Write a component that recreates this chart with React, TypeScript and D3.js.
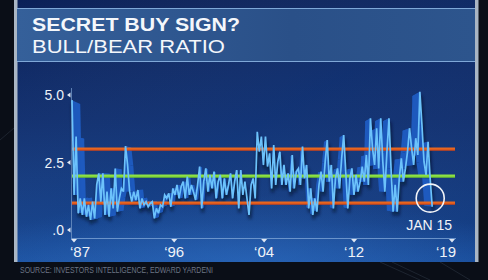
import React from 'react';
import * as d3 from 'd3';

// Bull/Bear ratio, evenly spaced from 1987 to Jan 15 2019
const bullBearRatio = [
  4.81, 1.3, 3.46, 0.62, 1.17, 0.56, 1.17, 0.49, 0.93, 0.37,
  1.05, 0.43, 1.67, 2.1, 1.05, 2.1, 0.56, 1.42, 0.49, 1.54,
  0.8, 2.28, 0.68, 1.17, 1.54, 1.42, 3.11, 2.41, 1.42, 1.05,
  1.42, 1.11, 1.48, 0.8, 1.17, 0.93, 1.05, 0.86, 0.99, 1.05,
  0.43, 0.8, 0.62, 0.93, 0.86, 1.3, 1.17, 1.36, 0.86, 1.54,
  1.3, 1.67, 1.17, 1.6, 1.79, 1.17, 1.98, 1.3, 1.67, 1.42,
  1.11, 1.67, 2.35, 0.8, 1.79, 2.28, 1.42, 2.04, 1.54, 2.16,
  1.17, 1.79, 2.04, 1.17, 1.91, 1.3, 1.67, 2.1, 1.17, 1.79,
  2.22, 0.8, 2.22, 1.3, 1.79, 1.17, 0.56, 1.67, 1.91, 1.17,
  3.64, 2.9, 3.46, 2.41,
  3.46, 2.35, 2.84, 1.54, 3.15, 1.67, 2.53, 2.9, 1.67, 2.41,
  1.67, 2.1, 1.42, 2.78, 1.54, 2.16, 2.28, 1.67, 3.09, 1.91,
  2.41, 0.8, 1.54, 0.56, 1.17, 0.68, 1.67, 2.16, 1.42, 2.53,
  3.33, 1.79, 2.41, 0.8, 1.91, 2.28, 1.54, 2.65, 3.52, 2.16,
  0.8, 1.91, 2.28, 1.3, 2.04, 1.42, 1.79, 2.35, 1.79, 2.78,
  1.67, 4.14, 3.02, 2.41, 3.77, 2.28, 4.14, 2.53, 1.42, 2.9,
  4.14, 2.28, 0.68, 1.67, 0.68, 1.91, 2.65, 1.79, 2.28, 2.9,
  3.77, 3.02, 2.41, 3.4, 2.78, 5.12, 3.91, 2.53, 2.04, 3.27,
  1.91, 0.86,
];
const startYear = 1987;
const endYear = 2019.04;

const levelValues = [3.0, 2.0, 1.0];
const levelColors = ['#e8661f', '#8ee243', '#e8661f'];

const yTickValues = [0, 2.5, 5];
const yTickLabels = ['.0', '2.5', '5.0'];

const xTickYears = [1987, 1996, 2004, 2012, 2020.8];
const xTickLabels = ['\u201887', '\u201896', '\u201804', '\u201812', '\u201819'];

const titleLine1 = 'SECRET BUY SIGN?';
const titleLine2 = 'BULL/BEAR RATIO';
const annotationLabel = 'JAN 15';
const sourceText = 'SOURCE: INVESTORS INTELLIGENCE, EDWARD YARDENI';

export default function App() {
  const W = 488;
  const H = 280;
  const x = d3.scaleLinear().domain([1987, 2020.8]).range([72, 452]);
  const y = d3.scaleLinear().domain([0, 5]).range([230, 95]);
  const n = bullBearRatio.length;
  const pts: [number, number][] = bullBearRatio.map((v, i) => [
    x(startYear + (i * (endYear - startYear)) / (n - 1)),
    y(v),
  ]);
  const line = d3.line()(pts) || '';
  // perspective extrusion toward a vanishing point
  const V = [255, 185];
  const k = 0.045;
  const back = (p: [number, number]) => [p[0] + k * (V[0] - p[0]), p[1] + k * (V[1] - p[1])];
  const faces = pts.slice(1).map((p2, i) => {
    const p1 = pts[i];
    const q1 = back(p1);
    const q2 = back(p2);
    return `M${p1[0]},${p1[1]}L${p2[0]},${p2[1]}L${q2[0]},${q2[1]}L${q1[0]},${q1[1]}Z`;
  });
  const last = pts[pts.length - 1];
  const fontSans = "'Liberation Sans', Arial, sans-serif";

  return (
    <svg width={W} height={H} style={{ position: 'absolute', left: 0, top: 0 }} xmlns="http://www.w3.org/2000/svg">
      <defs>
        <linearGradient id="panel" x1="0" y1="0" x2="0" y2="1">
          <stop offset="0" stopColor="#0a2058" />
          <stop offset="0.45" stopColor="#0c2a6a" />
          <stop offset="0.85" stopColor="#113b82" />
          <stop offset="1" stopColor="#1a4e9c" />
        </linearGradient>
        <linearGradient id="sheen" x1="0" y1="0" x2="1" y2="1">
          <stop offset="0" stopColor="#ffffff" stopOpacity="0" />
          <stop offset="0.5" stopColor="#3f7fd0" stopOpacity="0.12" />
          <stop offset="1" stopColor="#ffffff" stopOpacity="0" />
        </linearGradient>
        <linearGradient id="titleBox" x1="0" y1="0" x2="1" y2="0">
          <stop offset="0" stopColor="#35609a" />
          <stop offset="0.6" stopColor="#2a5088" />
          <stop offset="1" stopColor="#2d558d" />
        </linearGradient>
        <radialGradient id="floor" cx="0.5" cy="1" r="0.6">
          <stop offset="0" stopColor="#2a6cc4" stopOpacity="0.55" />
          <stop offset="1" stopColor="#2a6cc4" stopOpacity="0" />
        </radialGradient>
        <filter id="blur" x="-10%" y="-10%" width="120%" height="130%">
          <feGaussianBlur stdDeviation="1.6" />
        </filter>
        <clipPath id="panelClip">
          <rect x={17} y={0} width={458} height={262} />
        </clipPath>
      </defs>

      {/* outer background */}
      <rect x={0} y={0} width={W} height={H} fill="#0a0e17" />
      <g stroke="#2a3340" strokeWidth={1} opacity={0.6}>
        <line x1={380} y1={262} x2={420} y2={280} />
        <line x1={392} y1={262} x2={430} y2={280} />
        <line x1={440} y1={262} x2={470} y2={280} />
        <line x1={0} y1={140} x2={14} y2={128} />
      </g>

      {/* panel */}
      <rect x={17} y={0} width={458} height={262} fill="url(#panel)" />
      <g clipPath="url(#panelClip)">
        <rect x={17} y={0} width={458} height={262} fill="url(#sheen)" />
        <rect x={17} y={150} width={458} height={112} fill="url(#floor)" />
      </g>
      <rect x={14} y={0} width={3.5} height={262} fill="#aab6c4" />
      <rect x={475} y={0} width={3.5} height={262} fill="#aab6c4" />

      {/* title box */}
      <rect x={17} y={8} width={458} height={54} fill="url(#titleBox)" />
      <line x1={17} x2={475} y1={8.5} y2={8.5} stroke="#7fa8d8" strokeWidth={1} />
      <line x1={17} x2={475} y1={61.5} y2={61.5} stroke="#7fa8d8" strokeWidth={1} />
      <text x={32} y={31} fill="#f4f7fb" fontFamily={fontSans} fontWeight={700} fontSize={18.5}
        textLength={208} lengthAdjust="spacingAndGlyphs">{titleLine1}</text>
      <text x={32} y={53} fill="#f4f7fb" fontFamily={fontSans} fontWeight={400} fontSize={18.5}
        textLength={193} lengthAdjust="spacingAndGlyphs">{titleLine2}</text>

      {/* axes */}
      <line x1={71.5} x2={71.5} y1={88} y2={238} stroke="#6f93c4" strokeWidth={0.8} />
      <line x1={71} x2={456} y1={238.5} y2={238.5} stroke="#7da4d6" strokeWidth={0.8} />
      {yTickValues.map((v, i) => (
        <g key={'y' + i}>
          <path d={`M${67},${y(v)}L${70.5},${y(v) - 2.5}L${70.5},${y(v) + 2.5}Z`} fill="#dfe7f3" />
          <text x={64} y={y(v)} dy="0.36em" textAnchor="end" fill="#eef2f8" fontFamily={fontSans} fontSize={14}>
            {yTickLabels[i]}
          </text>
        </g>
      ))}
      {xTickYears.map((t, i) => {
        const tx = i === xTickYears.length - 1 ? x(t) : i === 0 ? x(t) + 2 : x(t) + 1;
        const anchor = i === 0 ? 'start' : i === xTickYears.length - 1 ? 'end' : 'middle';
        const lx = i === 0 ? tx - 4 : i === xTickYears.length - 1 ? tx + 4 : tx;
        return (
          <g key={'x' + i}>
            <path d={`M${tx - 3},${239}L${tx + 3},${239}L${tx},${242.5}Z`} fill="#dfe7f3" />
            <text x={lx} y={257} textAnchor={anchor} fill="#eef2f8" fontFamily={fontSans} fontSize={15}>
              {xTickLabels[i]}
            </text>
          </g>
        );
      })}

      {/* series shadow */}
      <path d={line} transform="translate(1,4)" fill="none" stroke="#02081a" strokeWidth={3} opacity={0.55} filter="url(#blur)" />
      {/* extrusion */}
      <g fill="#1f5ec6" opacity={0.9}>
        {faces.map((d, i) => (
          <path key={i} d={d} />
        ))}
      </g>

      {/* reference levels */}
      {levelValues.map((v, i) => (
        <g key={'l' + i}>
          <line x1={72} x2={455} y1={y(v)} y2={y(v)} stroke={levelColors[i]} strokeWidth={3} />
          <line x1={72} x2={455} y1={y(v) + 1.2} y2={y(v) + 1.2} stroke={i === 1 ? '#5fb52a' : '#c2391a'} strokeWidth={0.8} />
        </g>
      ))}

      {/* series line */}
      <path d={line} fill="none" stroke="#6cc2fb" strokeWidth={1.7} strokeLinejoin="miter" strokeMiterlimit={3} />

      {/* annotation */}
      <circle cx={last[0] - 2} cy={y(1.18)} r={14} fill="none" stroke="#f2f4f8" strokeWidth={1.6} />
      <text x={last[0] - 3} y={230} textAnchor="middle" fill="#f2f4f8" fontFamily={fontSans} fontSize={14}>
        {annotationLabel}
      </text>

      {/* source */}
      <text x={20} y={273} fill="#6c7585" fontFamily={fontSans} fontSize={8.5} textLength={193} lengthAdjust="spacingAndGlyphs">
        {sourceText}
      </text>
    </svg>
  );
}
